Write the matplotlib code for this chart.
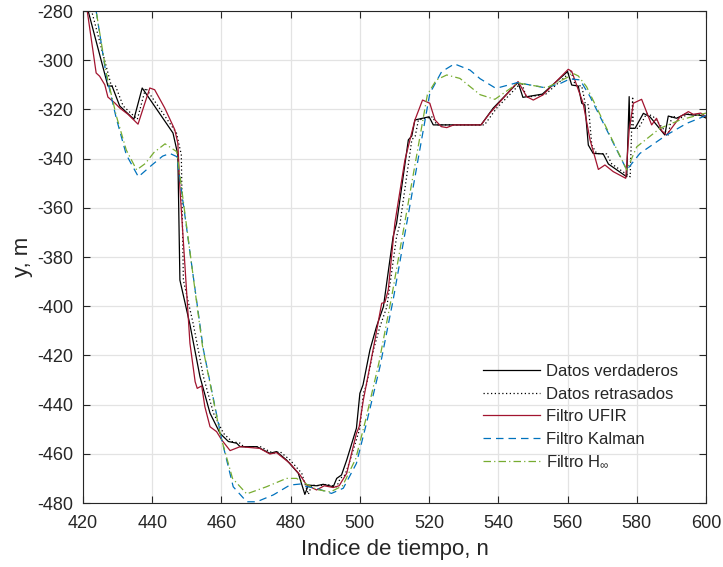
import matplotlib
matplotlib.use("Agg")
import matplotlib.pyplot as plt

plt.rcParams['font.family'] = ['Liberation Sans', 'DejaVu Sans']
plt.rcParams['mathtext.fontset'] = 'custom'
plt.rcParams['mathtext.rm'] = 'Liberation Sans'
plt.rcParams['mathtext.it'] = 'Liberation Sans'
plt.rcParams['axes.unicode_minus'] = False

# ---- data ----
true_x = [420, 427.2, 428.4, 430.6, 434.7, 437.1, 446.0, 447.4, 448.0, 450.9, 453.8, 456.7,
          459.6, 462.0, 464.4, 465.4, 470.2, 474.0, 475.9, 478.8, 482.2, 484.1, 485.1, 487.4,
          489.4, 492.3, 493.3, 494.7, 496.2, 499.0, 500.0, 500.9, 502.9, 504.8, 506.8, 509.6,
          510.6, 514.0, 515.0, 515.9, 520.0, 521.2, 535.0, 538.5, 545.7, 547.1, 552.7, 560.0,
          561.2, 563.1, 564.1, 565.0, 566.0, 567.4, 570.3, 571.8, 577.1, 577.8, 578.0, 579.5,
          581.9, 583.8, 588.1, 589.1, 591.5, 593.9, 596.3, 598.2, 600]
true_y = [-272, -310.5, -310.5, -318.6, -324, -311.3, -329.6, -338.4, -389.4, -407.5, -428.7, -443.5,
          -451.7, -455, -455.7, -457.1, -457.1, -459.8, -459.1, -462.5, -467.9, -476.5, -472.7, -473,
          -472.4, -473.4, -470, -468.6, -462.5, -449.6, -435.4, -432, -417.8, -408.3, -400.2, -371.7,
          -366.3, -332.4, -330.8, -324.3, -323, -326.3, -326.3, -319.5, -309, -315.1, -313.8, -304.6,
          -310.1, -310.5, -317.5, -318.2, -334.5, -337.9, -338.1, -342.2, -347.4, -314.8, -327.7, -327.7,
          -321.6, -323, -330.4, -322.7, -323.6, -321.9, -322.3, -322.3, -323.5]

delayed_x = [420, 421, 428.2, 429.4, 431.6, 435.7, 438.1, 447, 448.4, 449, 451.9, 454.8, 457.7,
             460.6, 463, 465.4, 466.4, 471.2, 475, 476.9, 479.8, 483.2, 485.1, 486.1, 488.4,
             490.4, 493.3, 494.3, 495.7, 497.2, 500, 501, 501.9, 503.9, 505.8, 507.8, 510.6,
             511.6, 515, 516, 516.9, 521, 522.2, 536, 539.5, 546.7, 548.1, 553.7, 561,
             562.2, 564.1, 565.1, 566, 567, 568.4, 571.3, 572.8, 578.1, 578.8, 579, 580.5,
             582.9, 584.8, 589.1, 590.1, 592.5, 594.9, 597.3, 599.2, 600]
delayed_y = [-267, -272, -310.5, -310.5, -318.6, -324, -311.3, -329.6, -338.4, -389.4, -407.5, -428.7, -443.5,
             -451.7, -455, -455.7, -457.1, -457.1, -459.8, -459.1, -462.5, -467.9, -476.5, -472.7, -473,
             -472.4, -473.4, -470, -468.6, -462.5, -449.6, -435.4, -432, -417.8, -408.3, -400.2, -371.7,
             -366.3, -332.4, -330.8, -324.3, -323, -326.3, -326.3, -319.5, -309, -315.1, -313.8, -304.6,
             -310.1, -310.5, -317.5, -318.2, -334.5, -337.9, -338.1, -342.2, -347.4, -314.8, -327.7, -327.7,
             -321.6, -323, -330.4, -322.7, -323.6, -321.9, -322.3, -322.3, -322.8]

ufir_x = [420, 423.8, 424.8, 426.3, 427.2, 429.2, 430.6, 433.0, 435.9, 439.3, 440.7, 443.6, 446.5,
          447.4, 448.0, 450.9, 452.4, 453.0, 454.3, 455.2, 456.7, 458.6, 460.1, 462.5, 465.4,
          471.1, 474.0, 475.9, 479.8, 482.7, 484.6, 487.5, 489.7, 492.3, 494.0, 496.2, 499.0,
          499.8, 501.0, 503.9, 506.3, 507.2, 508.2, 510.1, 513.0, 515.9, 518.1, 520.2, 521.7,
          523.5, 525.1, 527.1, 535.0, 537.5, 545.7, 548.2, 550.1, 552.9, 560.2, 561.2, 564.5,
          566.5, 568.9, 570.8, 573.2, 576.8, 577.8, 579.0, 581.4, 584.3, 585.7, 587.2, 588.6,
          592.5, 594.9, 596.3, 598.5, 600]
ufir_y = [-268, -305.2, -306.5, -310, -315, -317.4, -319.4, -322, -326, -311.3, -312, -319.4, -328.2,
          -333.7, -352, -415.1, -430.7, -433.4, -432.4, -440.8, -449, -451, -454.4, -458.7, -457.1,
          -457.8, -460.1, -459.5, -463.9, -468.6, -472.7, -474.7, -473, -473.7, -473, -467.9, -451.7,
          -449, -438.1, -417.1, -398.8, -398.5, -393.4, -366.3, -340.6, -324.3, -316.2, -317.5, -324.3,
          -327, -327.4, -326.3, -326.3, -321.6, -308.7, -314.8, -316.2, -314.1, -303.7, -304.5, -317.5,
          -332.4, -344.4, -342.6, -345.3, -348, -328.4, -317.5, -315.9, -326.3, -323.6, -328.7, -330.4,
          -323, -320.9, -322, -321.5, -323]

kal_x = [420, 423.8, 426.7, 429.6, 432.5, 436.0, 440.0, 443.0, 445.1, 447.1, 452.8, 454.8, 460.1,
         463.4, 467.3, 470.2, 475.0, 479.8, 482.7, 484.1, 487.4, 491.8, 495.2, 499.0, 501.9,
         505.8, 509.6, 520.2, 523.6, 527.3, 531.8, 534.7, 539.0, 540.5, 545.5, 553.5, 557.7,
         560.7, 563.6, 566.5, 577.1, 580.9, 588.6, 594.4, 600]
kal_y = [-245, -280, -306, -323.5, -338.4, -347.4, -342.5, -339, -337.9, -339.2, -397.5, -417.8, -454.4,
         -473.4, -479.5, -479.5, -476.7, -472.7, -472.3, -473.2, -474, -476.1, -474, -463.9, -447.6,
         -424.6, -397.5, -313.5, -304.7, -301.5, -304, -307.5, -311.2, -311, -309.1, -311.2, -309.6,
         -307.6, -308, -314.8, -344.6, -337.9, -330.4, -325.7, -322.5]

hinf_x = [420, 423.8, 426.7, 429.6, 432.5, 435.5, 438.0, 440.5, 443.7, 447.1, 452.5, 454.5, 459.8,
          463.2, 467.3, 473.0, 478.8, 481.7, 484.1, 487.5, 491.5, 495.0, 498.8, 501.7, 505.5,
          509.2, 519.5, 522.1, 525.1, 528.9, 534.7, 539.0, 545.7, 554.0, 560.2, 561.2, 563.1,
          565.5, 577.1, 580.0, 586.7, 592.5, 600]
hinf_y = [-247, -280, -305, -322.5, -336.5, -344.6, -342, -337.5, -334, -337.2, -395, -416, -453,
          -470, -476.3, -473.4, -470, -470, -472, -474.5, -475.5, -473, -462, -446, -423,
          -396, -314, -308, -306, -307.4, -314, -315.9, -309.3, -311.2, -306.8, -305.1, -306.4,
          -310.8, -344.6, -335.2, -327.7, -324.3, -321.5]

labels = ['Datos verdaderos', 'Datos retrasados', 'Filtro UFIR', 'Filtro Kalman',
          r'Filtro H$_{\mathregular{\infty}}$']
x_ticks = list(range(420, 601, 20))
y_ticks = list(range(-480, -279, 20))

# ---- figure ----
fig = plt.figure(figsize=(7.23, 5.67), dpi=100)
ax = fig.add_axes([83/723, 1-503/567, (706-83)/723, (503-11)/567])

lw = 0.9
ax.plot(true_x, true_y, color='black', lw=lw, label=labels[0])
ax.plot(delayed_x, delayed_y, color='black', lw=lw, ls=(0, (1, 2)), label=labels[1])
ax.plot(ufir_x, ufir_y, color='#A2142F', lw=lw, label=labels[2])
ax.plot(kal_x, kal_y, color='#0072BD', lw=lw, ls=(0, (6, 4)), label=labels[3])
ax.plot(hinf_x, hinf_y, color='#77AC30', lw=lw, ls=(0, (6, 2.5, 1, 2.5)), label=labels[4])

ax.set_xlim(420, 600)
ax.set_ylim(-480, -280)
ax.set_xticks(x_ticks)
ax.set_yticks(y_ticks)
ax.grid(True, color='#e3e3e3', lw=0.9)
ax.set_axisbelow(True)
for s in ax.spines.values():
    s.set_color('#262626')
    s.set_linewidth(0.8)
ax.tick_params(direction='in', length=5, width=0.8, top=True, right=True,
               labelsize=13, colors='#262626', pad=7)
ax.tick_params(axis='x', pad=9)
ax.set_xlabel('Indice de tiempo, n', fontsize=16, color='#262626', labelpad=5)
ax.set_ylabel('y, m', fontsize=16, color='#262626', labelpad=3)

leg = ax.legend(loc='upper left', bbox_to_anchor=(0.642, 0.2825), frameon=False,
                fontsize=12, handlelength=3.4, handletextpad=0.36, labelspacing=0.45,
                borderaxespad=0, borderpad=0)
for t in leg.get_texts():
    t.set_color('#262626')

fig.savefig('out.png', dpi=100)
